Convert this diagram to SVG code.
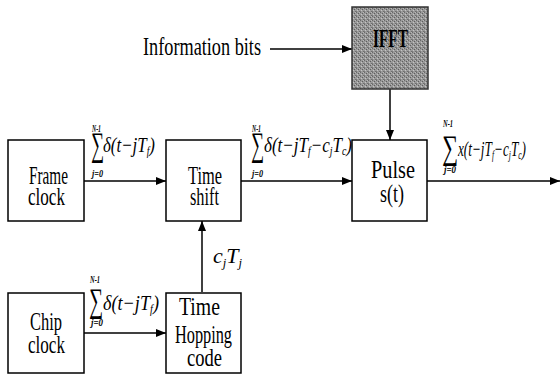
<svg xmlns="http://www.w3.org/2000/svg" width="560" height="374" viewBox="0 0 560 374">
<style>
.box{fill:#fff;stroke:#000;stroke-width:1.5}
.ln{fill:none;stroke:#000;stroke-width:1.5}
.t{font-family:"Liberation Serif","DejaVu Serif",serif;font-size:25px;fill:#000}
.m{font-family:"Liberation Serif","DejaVu Serif",serif;font-style:italic;font-size:21px;fill:#000}
.lim{font-family:"Liberation Serif","DejaVu Serif",serif;font-style:italic;font-weight:bold;font-size:10px;fill:#000}
.sig{font-family:"Liberation Serif","DejaVu Serif",serif;font-size:34px;fill:#000}
.sub{font-size:12px}
</style>
<defs>
<marker id="ah" markerWidth="10" markerHeight="8" refX="10" refY="4" orient="auto" markerUnits="userSpaceOnUse">
<path d="M0,0 L10,4 L0,8 z" fill="#000"/>
</marker>
<pattern id="dither" width="4" height="4" patternUnits="userSpaceOnUse">
<rect width="4" height="4" fill="#9a9a9a"/>
<rect x="0" y="0" width="1" height="1" fill="#6a6a6a"/>
<rect x="2" y="1" width="1" height="1" fill="#5e5e5e"/>
<rect x="1" y="2" width="1" height="1" fill="#c4c4c4"/>
<rect x="3" y="3" width="1" height="1" fill="#6e6e6e"/>
<rect x="3" y="0" width="1" height="1" fill="#b8b8b8"/>
<rect x="0" y="3" width="1" height="1" fill="#7a7a7a"/>
</pattern>
</defs>

<g id="connectors">
<line class="ln" x1="270" y1="49" x2="352" y2="49" marker-end="url(#ah)"/>
<line class="ln" x1="390" y1="89" x2="390" y2="140" marker-end="url(#ah)"/>
<line class="ln" x1="84" y1="181" x2="166" y2="181" marker-end="url(#ah)"/>
<line class="ln" x1="241" y1="181" x2="352" y2="181" marker-end="url(#ah)"/>
<line class="ln" x1="427" y1="181" x2="560" y2="181" marker-end="url(#ah)"/>
<line class="ln" x1="84" y1="333" x2="166" y2="333" marker-end="url(#ah)"/>
<line class="ln" x1="202" y1="292" x2="202" y2="221" marker-end="url(#ah)"/>
</g>

<g id="info-bits">
<text class="t" x="143" y="55" textLength="118" lengthAdjust="spacingAndGlyphs">Information bits</text>
</g>

<g id="ifft">
<rect x="352" y="7" width="76" height="82" fill="url(#dither)" stroke="#333" stroke-width="1.5"/>
<text class="t" x="373" y="47" font-weight="bold" font-size="20" textLength="35" lengthAdjust="spacingAndGlyphs" fill="#111">IFFT</text>
</g>

<g id="frame-clock">
<rect class="box" x="8" y="140" width="76" height="81"/>
<text class="t" x="29" y="184" textLength="39" lengthAdjust="spacingAndGlyphs">Frame</text>
<text class="t" x="28" y="205" textLength="37" lengthAdjust="spacingAndGlyphs">clock</text>
</g>

<g id="time-shift">
<rect class="box" x="166" y="140" width="75" height="81"/>
<text class="t" x="188" y="184" textLength="34" lengthAdjust="spacingAndGlyphs">Time</text>
<text class="t" x="190" y="205" textLength="29" lengthAdjust="spacingAndGlyphs">shift</text>
</g>

<g id="pulse">
<rect class="box" x="352" y="140" width="75" height="81"/>
<text class="t" x="371" y="178" textLength="44" lengthAdjust="spacingAndGlyphs">Pulse</text>
<text class="t" x="380" y="202" textLength="24" lengthAdjust="spacingAndGlyphs">s(t)</text>
</g>

<g id="chip-clock">
<rect class="box" x="8" y="293" width="76" height="80"/>
<text class="t" x="30" y="330" textLength="32" lengthAdjust="spacingAndGlyphs">Chip</text>
<text class="t" x="28" y="353" textLength="37" lengthAdjust="spacingAndGlyphs">clock</text>
</g>

<g id="time-hopping-code">
<rect class="box" x="166" y="293" width="75" height="80"/>
<text class="t" x="179" y="315" textLength="41" lengthAdjust="spacingAndGlyphs">Time</text>
<text class="t" x="175" y="343" textLength="57" lengthAdjust="spacingAndGlyphs">Hopping</text>
<text class="t" x="187" y="366" textLength="35" lengthAdjust="spacingAndGlyphs">code</text>
</g>

<g id="label-frame">
<text class="lim" x="92" y="132" textLength="9" lengthAdjust="spacingAndGlyphs">N-1</text>
<text class="sig" x="91" y="156" textLength="13" lengthAdjust="spacingAndGlyphs">∑</text>
<text class="lim" x="92" y="177" textLength="11" lengthAdjust="spacingAndGlyphs">j=0</text>
<text class="m" x="103" y="152" textLength="52" lengthAdjust="spacingAndGlyphs">δ(t−jT<tspan class="sub" dy="3">f</tspan><tspan dy="-3">)</tspan></text>
</g>

<g id="label-shift">
<text class="lim" x="252" y="132" textLength="9" lengthAdjust="spacingAndGlyphs">N-1</text>
<text class="sig" x="251" y="156" textLength="13" lengthAdjust="spacingAndGlyphs">∑</text>
<text class="lim" x="252" y="177" textLength="11" lengthAdjust="spacingAndGlyphs">j=0</text>
<text class="m" x="264" y="152" textLength="88" lengthAdjust="spacingAndGlyphs">δ(t−jT<tspan class="sub" dy="3">f</tspan><tspan dy="-3">−c</tspan><tspan class="sub" dy="3">j</tspan><tspan dy="-3">T</tspan><tspan class="sub" dy="3">c</tspan><tspan dy="-3">)</tspan></text>
</g>

<g id="label-pulse">
<text class="lim" x="443" y="127" textLength="10" lengthAdjust="spacingAndGlyphs">N-1</text>
<text class="sig" x="442" y="159" font-size="38" textLength="16" lengthAdjust="spacingAndGlyphs">∑</text>
<text class="lim" x="444" y="173" textLength="12" lengthAdjust="spacingAndGlyphs">j=0</text>
<text class="m" x="458" y="156" font-size="23" textLength="68" lengthAdjust="spacingAndGlyphs">x(t−jT<tspan class="sub" dy="3">f</tspan><tspan dy="-3">−c</tspan><tspan class="sub" dy="3">j</tspan><tspan dy="-3">T</tspan><tspan class="sub" dy="3">c</tspan><tspan dy="-3">)</tspan></text>
</g>

<g id="label-chip">
<text class="lim" x="90" y="283" textLength="10" lengthAdjust="spacingAndGlyphs">N-1</text>
<text class="sig" x="89" y="312" font-size="36" textLength="14" lengthAdjust="spacingAndGlyphs">∑</text>
<text class="lim" x="91" y="326" textLength="12" lengthAdjust="spacingAndGlyphs">j=0</text>
<text class="m" x="103" y="310" textLength="56" lengthAdjust="spacingAndGlyphs">δ(t−jT<tspan class="sub" dy="3">f</tspan><tspan dy="-3">)</tspan></text>
</g>

<g id="label-cjtj">
<text class="m" x="213" y="263" font-size="22" textLength="29" lengthAdjust="spacingAndGlyphs">c<tspan class="sub" dy="4">j</tspan><tspan dy="-4">T</tspan><tspan class="sub" dy="4">j</tspan></text>
</g>
</svg>
